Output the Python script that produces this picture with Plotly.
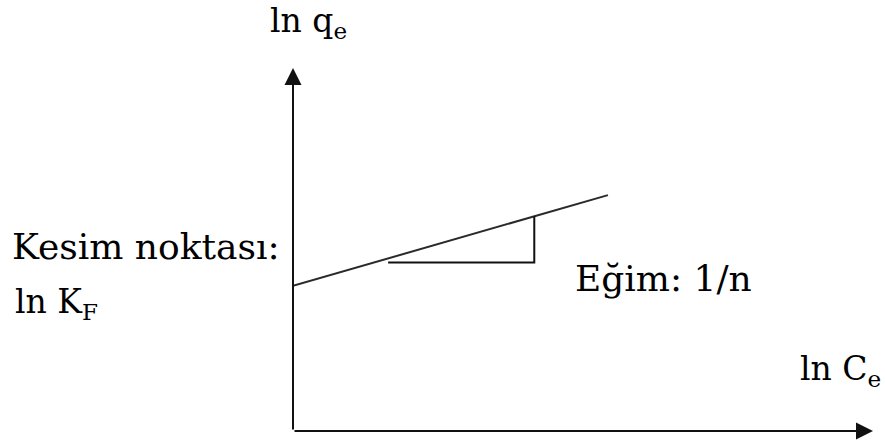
import plotly.graph_objects as go

# Freundlich isotherm, linearised form: ln qe = ln KF + (1/n) ln Ce
ln_KF = 4.0          # intercept
inv_n = 0.46         # slope 1/n
ln_Ce = [0.0, 5.43]  # extent of the drawn line
ln_qe = [ln_KF + inv_n * c for c in ln_Ce]

# slope triangle under the line
tri_x = [1.64, 4.16, 4.16]
tri_y = [4.64, 4.64, ln_KF + inv_n * 4.16]

# axis extents (arrow tips)
x_axis_end = 10.0
y_axis_end = 10.0

INK = "#111111"
FONT = "DejaVu Serif"

fig = go.Figure()

fig.add_trace(go.Scatter(x=ln_Ce, y=ln_qe, mode="lines",
                         line=dict(color="#2a2a2a", width=2),
                         hoverinfo="skip", showlegend=False))
fig.add_trace(go.Scatter(x=tri_x, y=tri_y, mode="lines",
                         line=dict(color=INK, width=2),
                         hoverinfo="skip", showlegend=False))

# coordinate axes drawn as arrows from the origin
for tip_x, tip_y in [(x_axis_end, 0.0), (0.0, y_axis_end)]:
    fig.add_annotation(x=tip_x, y=tip_y, ax=0.0, ay=0.0,
                       xref="x", yref="y", axref="x", ayref="y",
                       text="", showarrow=True, arrowhead=2,
                       arrowsize=1.7, arrowwidth=2, arrowcolor=INK,
                       standoff=0, startstandoff=0)

# labels placed in paper coordinates (may lie in the margins)
labels = [
    ("ln q<sub>e</sub>", -0.043, 1.124, 33),
    ("ln C<sub>e</sub>", 0.871, 0.167, 33),
    ("Kesim noktası:", -0.488, 0.509, 36),
    ("ln K<sub>F</sub>", -0.483, 0.350, 33),
    ("Eğim: 1/n", 0.483, 0.419, 36),
]
for txt, lx, ly, fs in labels:
    fig.add_annotation(x=lx, y=ly, xref="paper", yref="paper", text=txt,
                       showarrow=False, xanchor="left", yanchor="middle",
                       font=dict(family=FONT, size=fs, color="black"))

fig.update_xaxes(range=[0, x_axis_end], visible=False, fixedrange=True)
fig.update_yaxes(range=[0, y_axis_end], visible=False, fixedrange=True)
fig.update_layout(width=885, height=445,
                  margin=dict(l=293, r=12, t=68, b=14),
                  paper_bgcolor="white", plot_bgcolor="white",
                  showlegend=False)

fig.write_html("out.html", config={"displayModeBar": False})
